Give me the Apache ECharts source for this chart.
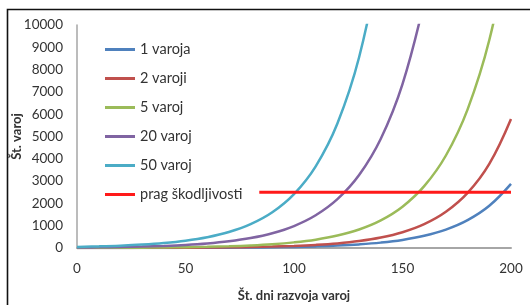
<!DOCTYPE html>
<html>
<head>
<meta charset="utf-8">
<script src="https://cdn.jsdelivr.net/npm/echarts@6/dist/echarts.min.js"></script>
<style>
html,body{margin:0;padding:0;background:#fff;}
#c{width:530px;height:305px;}
</style>
</head>
<body>
<div id="c"></div>
<script>
const days = [0,10,20,30,40,50,60,70,80,90,100,110,120,130,140,150,160,170,180,190,200];
const vals1 = [1,1.46,2.13,3.13,4.6,6.76,9.97,14.7,21.8,32.4,48.3,71.9,107,161,241,362,546,824,1248,1892,2875];
const vals2 = [2,2.9,4.2,6.1,8.9,13.1,19.2,28.4,41.9,62.2,92.5,138,206,310,467,705,1067,1622,2469,3772,5788];
const vals5 = [5,7.4,10.9,16,23.7,35,51.8,76.8,114,169,252,374,557,831,1240,1853,2773,4148,6218,9325,14000];
const vals20 = [20,29.3,43,63.3,93.2,137,203,301,446,662,985,1467,2189,3272,4900,7350,11044];
const vals50 = [50,72,104,152,222,326,482,715,1068,1602,2417,3664,5584,8553,13172];
const thresholdDays = [84,200];
const thresholdVals = [2500,2500];
const names = ['1 varoja','2 varoji','5 varoj','20 varoj','50 varoj','prag škodljivosti'];

function pairs(xs, ys){ return ys.map((v,i)=>[xs[i], v]); }

const font = 'Lato, "Open Sans", sans-serif';
const colors = ['#4F81BD','#C0504D','#9BBB59','#8064A2','#4BACC6','#FF1A1A'];
const seriesData = [
  pairs(days, vals1), pairs(days, vals2), pairs(days, vals5),
  pairs(days, vals20), pairs(days, vals50), pairs(thresholdDays, thresholdVals)
];
const lineIcon = 'path://M0,0L0.01,0L0.01,0.01L0,0.01Z M0,5.6L30,5.6L30,8.4L0,8.4Z M29.99,13.99L30,13.99L30,14L29.99,14Z';

const chart = echarts.init(document.getElementById('c'), null, {renderer:'canvas'});
chart.setOption({
  animation:false,
  backgroundColor:'#fff',
  color: colors,
  grid:{left:77, right:19, top:25, bottom:57, containLabel:false, outerBoundsMode:'none'},
  graphic:[{type:'rect', shape:{x:7.5,y:9.5,width:600,height:400}, style:{fill:'none', stroke:'#111', lineWidth:1.6}, z:100}],
  legend:{
    orient:'vertical', left:105, top:42, padding:0,
    itemWidth:30, itemHeight:14, itemGap:14.0,
    textStyle:{fontFamily:font, fontSize:14.5, lineHeight:14, color:'#333'},
    data: names.map((n,i)=>({name:n, icon:lineIcon, itemStyle:{color:colors[i]}}))
  },
  xAxis:{
    type:'value', min:0, max:200, interval:50,
    name:'Št. dni razvoja varoj', nameLocation:'middle', nameGap:41,
    nameTextStyle:{fontFamily:font, fontSize:13, fontWeight:'bold', color:'#333'},
    axisLine:{show:true, lineStyle:{color:'#A6A6A6', width:2}},
    axisTick:{show:false},
    splitLine:{show:false},
    axisLabel:{fontFamily:font, fontSize:13.5, color:'#333', margin:14}
  },
  yAxis:{
    type:'value', min:0, max:10000, interval:1000,
    name:'Št. varoj', nameLocation:'middle', nameGap:54, nameRotate:90, nameMoveOverlap:false,
    nameTextStyle:{fontFamily:font, fontSize:13, fontWeight:'bold', color:'#333'},
    axisLine:{show:true, lineStyle:{color:'#A6A6A6', width:1.5}},
    axisTick:{show:false},
    splitLine:{show:false},
    axisLabel:{fontFamily:font, fontSize:13.5, color:'#333', margin:14,
      formatter: v => String(v)}
  },
  series: seriesData.map((d,i)=>({
    name:names[i], type:'line', data:d, showSymbol:false, symbol:'none',
    smooth: i<5 ? 0.4 : false, clip:true,
    lineStyle:{width: i<5 ? 2.5 : 3, color: colors[i]},
    itemStyle:{color: colors[i]},
    z: i===5 ? 3 : 2
  }))
});
</script>
</body>
</html>
